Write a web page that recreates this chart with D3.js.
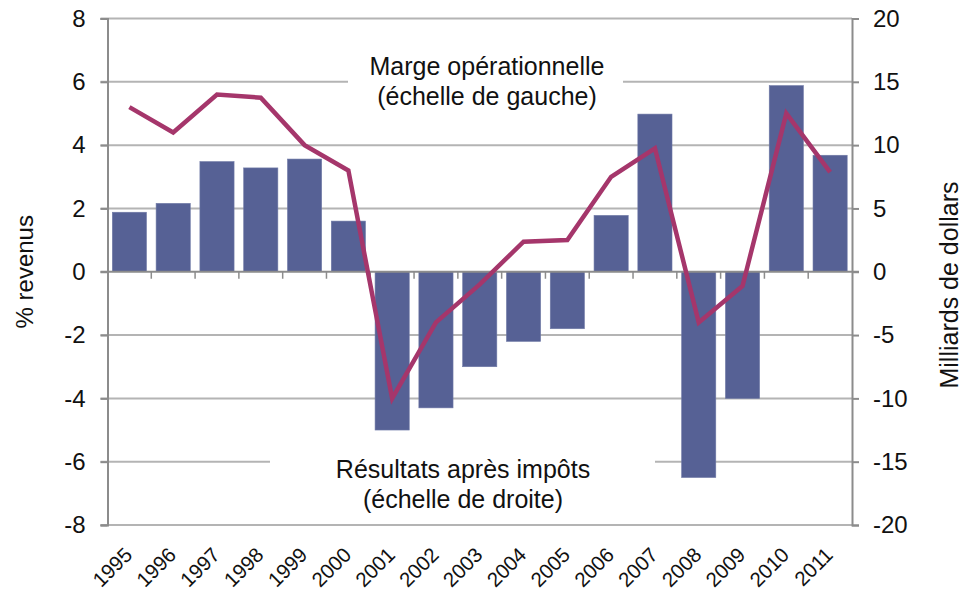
<!DOCTYPE html>
<html>
<head>
<meta charset="utf-8">
<script src="https://cdn.jsdelivr.net/npm/d3@7"></script>
<style>
  body { margin: 0; background: #fff; }
  svg { display: block; font-family: "Liberation Sans", Arial, Helvetica, sans-serif; }
</style>
</head>
<body>
<div id="chart"></div>
<script>
// Data
const years = ["1995", "1996", "1997", "1998", "1999", "2000", "2001", "2002", "2003",
  "2004", "2005", "2006", "2007", "2008", "2009", "2010", "2011"];
// Résultats après impôts, milliards de dollars (échelle de droite)
const resultats = [4.7, 5.4, 8.7, 8.2, 8.9, 4.0, -12.5, -10.75, -7.5, -5.5, -4.5, 4.45, 12.45, -16.25, -10.0, 14.7, 9.2];
// Marge opérationnelle, % revenus (échelle de gauche)
const marge = [5.2, 4.4, 5.6, 5.5, 4.0, 3.2, -4.0, -1.6, -0.4, 0.95, 1.0, 3.0, 3.9, -1.6, -0.45, 5.0, 3.15];
const leftTicks = [-8, -6, -4, -2, 0, 2, 4, 6, 8];
const rightTicks = [-20, -15, -10, -5, 0, 5, 10, 15, 20];

//Setup Dimensions
const width = 963;
const height = 594;
const margin = { top: 18.5, right: 111, bottom: 69, left: 107.5 };
const innerW = width - margin.left - margin.right;
const innerH = height - margin.top - margin.bottom;

const barColor = "#566195";
const lineColor = "#a5366b";
const gridColor = "#b4b4b4";
const axisColor = "#8c8c8c";

const svg = d3.select("#chart")
  .append("svg")
  .attr("width", width)
  .attr("height", height);

const g = svg.append("g")
  .attr("transform", `translate(${margin.left},${margin.top})`);

//Scales
const x = d3.scaleBand()
  .domain(years)
  .range([0, innerW])
  .paddingInner(0.22)
  .paddingOuter(0.11);
const xBound = d3.scaleBand().domain(years).range([0, innerW]);

const yLeft = d3.scaleLinear().domain([-8, 8]).range([innerH, 0]);
const yRight = d3.scaleLinear().domain([-20, 20]).range([innerH, 0]);

//Gridlines
g.append("g")
  .selectAll("line")
  .data(leftTicks.filter(d => d !== 0))
  .enter().append("line")
  .attr("x1", -7)
  .attr("x2", innerW)
  .attr("y1", d => yLeft(d))
  .attr("y2", d => yLeft(d))
  .attr("stroke", gridColor)
  .attr("stroke-width", 2);

//White boxes behind the annotations
g.append("rect")
  .attr("x", 348 - margin.left).attr("y", 50 - margin.top)
  .attr("width", 275).attr("height", 62)
  .attr("fill", "#fff");
g.append("rect")
  .attr("x", 270 - margin.left).attr("y", 448 - margin.top)
  .attr("width", 385).attr("height", 66)
  .attr("fill", "#fff");

//Bars
g.append("g")
  .selectAll("rect")
  .data(resultats)
  .enter().append("rect")
  .attr("x", (d, i) => x(years[i]))
  .attr("width", x.bandwidth())
  .attr("y", d => yRight(Math.max(0, d)))
  .attr("height", d => Math.abs(yRight(d) - yRight(0)))
  .attr("fill", barColor)
  .attr("stroke", "#6f79a6")
  .attr("stroke-width", 0.6);

//Axes
const leftAxis = g.append("g")
  .call(d3.axisLeft(yLeft).tickValues(leftTicks).tickSize(7).tickPadding(15).tickFormat(d3.format("d")));
const rightAxis = g.append("g")
  .attr("transform", `translate(${innerW},0)`)
  .call(d3.axisRight(yRight).tickValues(rightTicks).tickSize(7).tickPadding(14).tickFormat(d3.format("d")));
[leftAxis, rightAxis].forEach(a => {
  a.select(".domain").attr("stroke", axisColor).attr("stroke-width", 2);
  a.selectAll(".tick line").attr("stroke", axisColor).attr("stroke-width", 2);
  a.selectAll(".tick text")
    .attr("font-size", 24)
    .attr("fill", "#111")
    .text(d => d < 0 ? "-" + Math.abs(d) : d);
});

//Zero line with category ticks
const zero = g.append("g").attr("transform", `translate(0,${yLeft(0)})`);
zero.append("line")
  .attr("x1", -7).attr("x2", innerW + 7)
  .attr("stroke", axisColor).attr("stroke-width", 2);
zero.selectAll(".cat-tick")
  .data(years.slice(1))
  .enter().append("line")
  .attr("class", "cat-tick")
  .attr("x1", d => xBound(d)).attr("x2", d => xBound(d))
  .attr("y1", 0).attr("y2", 7)
  .attr("stroke", axisColor).attr("stroke-width", 1.5);

//Line
const line = d3.line()
  .x((d, i) => xBound(years[i]) + xBound.bandwidth() / 2)
  .y(d => yLeft(d));
g.append("path")
  .datum(marge)
  .attr("fill", "none")
  .attr("stroke", lineColor)
  .attr("stroke-width", 4.5)
  .attr("stroke-linejoin", "miter")
  .attr("d", line);

//Year labels
g.append("g")
  .selectAll("text")
  .data(years)
  .enter().append("text")
  .attr("transform", d => `translate(${xBound(d) + xBound.bandwidth() / 2 - 1},${innerH + 26}) rotate(-45)`)
  .attr("text-anchor", "end")
  .attr("dy", "0.35em")
  .attr("font-size", 20.5)
  .attr("fill", "#111")
  .text(d => d);

//Axis titles
svg.append("text")
  .attr("transform", `translate(33,${margin.top + yLeft(0)}) rotate(-90)`)
  .attr("text-anchor", "middle")
  .attr("font-size", 24)
  .attr("fill", "#111")
  .text("% revenus");
svg.append("text")
  .attr("transform", `translate(958,285) rotate(-90)`)
  .attr("text-anchor", "middle")
  .attr("font-size", 25)
  .attr("fill", "#111")
  .text("Milliards de dollars");

//Annotations
const notes = [
  { lines: ["Marge opérationnelle", "(échelle de gauche)"], x: 487, y: 75 },
  { lines: ["Résultats après impôts", "(échelle de droite)"], x: 463, y: 478 }
];
notes.forEach(n => {
  svg.append("text")
    .attr("x", n.x).attr("y", n.y)
    .attr("text-anchor", "middle")
    .attr("font-size", 25)
    .attr("fill", "#111")
    .selectAll("tspan")
    .data(n.lines)
    .enter().append("tspan")
    .attr("x", n.x)
    .attr("dy", (d, i) => i === 0 ? 0 : 30)
    .text(d => d);
});
</script>
</body>
</html>
